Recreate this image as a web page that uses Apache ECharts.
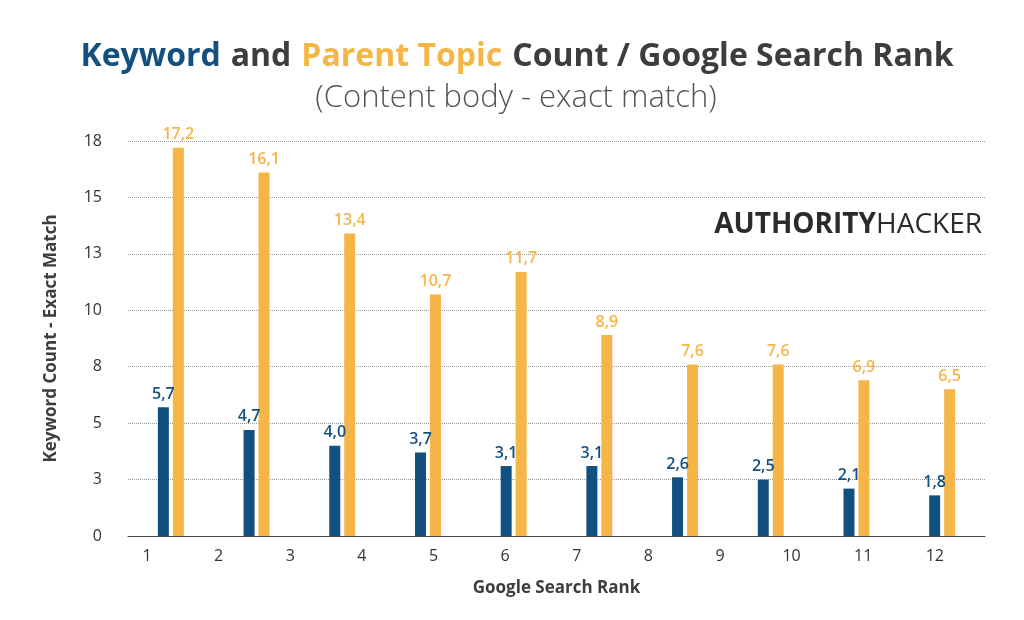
<!DOCTYPE html>
<html>
<head>
<meta charset="utf-8">
<script src="https://cdn.jsdelivr.net/npm/echarts@6/dist/echarts.min.js"></script>
<style>html,body{margin:0;background:#fff}#chart{width:1024px;height:620px}</style>
</head>
<body>
<div id="chart"></div>
<script>
// data
const groups = ['g1', 'g2', 'g3', 'g4', 'g5', 'g6', 'g7', 'g8', 'g9', 'g10'];
const keywordCount = [5.7, 4.7, 4.0, 3.7, 3.1, 3.1, 2.6, 2.5, 2.1, 1.8];
const parentTopicCount = [17.2, 16.1, 13.4, 10.7, 11.7, 8.9, 7.6, 7.6, 6.9, 6.5];
const rankLabels = [1, 2, 3, 4, 5, 6, 7, 8, 9, 10, 11, 12];

const blue = '#12507f';
const orange = '#f5b547';
const font = '"Open Sans", sans-serif';

const chart = echarts.init(document.getElementById('chart'));

let labelOption = {
  show: true,
  position: 'top',
  fontFamily: font,
  fontSize: 16,
  fontWeight: 600,
  formatter: p => p.value.toFixed(1).replace('.', ',')
};

let option = {
  animation: false,
  textStyle: { fontFamily: font },
  title: [
    {
      text: '{k|Keyword}{s| }{d|and}{s| }{p|Parent Topic}{s| }{d|Count / Google Search Rank}',
      left: 512,
      textAlign: 'center',
      top: 36,
      textStyle: {
        rich: {
          k: { color: blue, fontSize: 32, fontWeight: 'bold', fontFamily: font },
          p: { color: orange, fontSize: 32, fontWeight: 'bold', fontFamily: font },
          d: { color: '#3d3d3d', fontSize: 32, fontWeight: 'bold', fontFamily: font },
          s: { fontSize: 32, width: 10 }
        }
      }
    },
    {
      text: '(Content body - exact match)',
      left: 511,
      textAlign: 'center',
      top: 78,
      textStyle: { color: '#555', fontSize: 31, fontWeight: 300, fontFamily: font }
    }
  ],
  graphic: [{
    type: 'text',
    right: 42,
    top: 211,
    style: {
      text: '{a|AUTHORITY}{b|HACKER}',
      rich: {
        a: { fill: '#2b2b2b', fontSize: 28, fontWeight: 'bold', fontFamily: font },
        b: { fill: '#2b2b2b', fontSize: 28, fontWeight: 'normal', fontFamily: font }
      }
    }
  }],
  grid: { left: 128, right: 39, top: 141, bottom: 84 },
  xAxis: [
    {
      type: 'category',
      data: groups,
      show: false
    },
    {
      type: 'value',
      min: 0.735,
      max: 12.7,
      position: 'bottom',
      name: 'Google Search Rank',
      nameLocation: 'middle',
      nameGap: 44,
      nameTextStyle: { fontSize: 17, fontWeight: 'bold', color: '#3d3d3d', fontFamily: font },
      axisLine: { show: true, lineStyle: { color: '#444', width: 1 } },
      axisTick: { show: false },
      splitLine: { show: false },
      axisLabel: {
        customValues: rankLabels,
        fontSize: 16,
        color: '#333',
        margin: 12,
        fontFamily: font
      }
    }
  ],
  yAxis: {
    type: 'value',
    min: 0,
    max: 17.5,
    interval: 2.5,
    name: 'Keyword Count - Exact Match',
    nameLocation: 'middle',
    nameGap: 68,
    nameTextStyle: { fontSize: 17, fontWeight: 'bold', color: '#3d3d3d', fontFamily: font },
    axisLine: { show: false },
    axisTick: { show: false },
    axisLabel: {
      fontSize: 16,
      color: '#333',
      margin: 26,
      fontFamily: font,
      formatter: v => String(Math.round(v + 0.001))
    },
    splitLine: { lineStyle: { color: '#999', type: 'dotted' } }
  },
  series: [
    {
      name: 'Keyword',
      type: 'bar',
      xAxisIndex: 0,
      barWidth: 11,
      barGap: '36%',
      itemStyle: { color: blue },
      label: Object.assign({ color: blue }, labelOption),
      data: keywordCount
    },
    {
      name: 'Parent Topic',
      type: 'bar',
      xAxisIndex: 0,
      barWidth: 11,
      itemStyle: { color: orange },
      label: Object.assign({ color: orange }, labelOption),
      data: parentTopicCount
    }
  ]
};

chart.setOption(option);
</script>
</body>
</html>
